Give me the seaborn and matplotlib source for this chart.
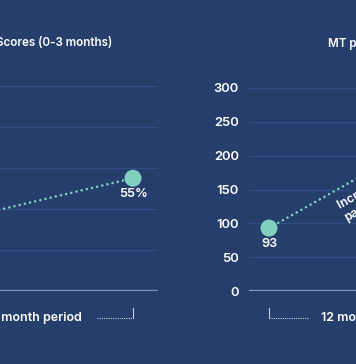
import matplotlib
matplotlib.use("Agg")
import matplotlib.pyplot as plt
import matplotlib.transforms as mtransforms
import pandas as pd
import seaborn as sns

# data
months = [0, 12]
scores_pct = [32, 55]
patients = [93, 260]
score_ticks = [0, 20, 40, 60, 80, 100]
patient_ticks = [0, 50, 100, 150, 200, 250, 300]
score_title = "PHQ-9 Scores (0-3 months)"
patient_title = "MT participants (0-12 months)"
period_label = "12 month period"
trend_label = "Increase in\npatients"

BG = "#263e6c"
GRID = "#2f4e88"
ZERO = "#8d95b9"
MINT = "#7fd0bf"
FONT = ["Inter", "DejaVu Sans"]
WT = "semibold"

sns.set_theme(style="white", rc={"axes.facecolor": BG, "figure.facecolor": BG})
plt.rcParams["font.family"] = FONT

W, H = 356, 364
fig = plt.figure(figsize=(W / 100, H / 100), dpi=100)
PX = 200 / 12.0  # pixels per month


def panel(left_px, top_px, ylim, ticks, values, show_labels):
    bottom_px = 291
    xlim = (-1.2, 13.5)
    ax = fig.add_axes([left_px / W, (H - bottom_px) / H,
                       (xlim[1] - xlim[0]) * PX / W, (bottom_px - top_px) / H])
    ax.set_facecolor(BG)
    ax.set_xlim(*xlim)
    ax.set_ylim(*ylim)
    ax.set_yticks(ticks)
    if show_labels:
        ax.set_yticklabels([str(t) for t in ticks])
    else:
        ax.set_yticklabels([])
    ax.set_xticks([])
    for s in ax.spines.values():
        s.set_visible(False)
    ax.tick_params(axis="y", length=0, pad=7.2, labelsize=9.4, labelcolor="white")
    for lab in ax.get_yticklabels():
        lab.set_fontweight(WT)
    for t in ticks[1:]:
        ax.axhline(t, color=GRID, lw=0.9, zorder=0)
    ax.axhline(0, color=ZERO, lw=1.6, zorder=1)

    df = pd.DataFrame({"month": months, "value": values})
    sns.lineplot(data=df, x="month", y="value", ax=ax, color=MINT, lw=1.9,
                 linestyle=(0, (0.01, 2.0)), dash_capstyle="round", zorder=2)
    sns.scatterplot(data=df, x="month", y="value", ax=ax, color=MINT, s=150,
                    edgecolor="none", zorder=3, clip_on=False)
    ax.set_xlabel("")
    ax.set_ylabel("")
    return ax


# left panel's y labels sit outside the visible area
ax1 = panel(158 - 14.7 * PX, 86, (0, 100), score_ticks, scores_pct, False)
ax2 = panel(249, 88, (0, 300), patient_ticks, patients, True)

ax1.annotate(f"{scores_pct[1]}%", (months[1], scores_pct[1]), xytext=(0, -11),
             textcoords="offset points", ha="center", va="center",
             color="white", fontsize=9.2, fontweight=WT)
ax2.annotate(f"{patients[0]}", (months[0], patients[0]), xytext=(0, -11.5),
             textcoords="offset points", ha="center", va="center",
             color="white", fontsize=9.2, fontweight=WT)

# rotated trend label along the line
ax2.text(4.35, 116, trend_label, rotation=29, rotation_mode="anchor",
         ha="left", va="center", color="white", fontsize=8.8,
         fontweight=WT, linespacing=1.15,
         bbox=dict(facecolor=BG, edgecolor="none", pad=1.5), zorder=4)

# period brackets under each panel
dot_kw = dict(color="#c8cce0", lw=0.8, clip_on=False)
for ax, h, seg, tick_x in [(ax1, 205, (9.84, 12), 12), (ax2, 203, (0, 2.4), 0)]:
    tr = mtransforms.blended_transform_factory(ax.transData, ax.transAxes)
    yb = -27 / h
    yt = -17 / h
    ax.plot(seg, [yb, yb], transform=tr, linestyle=(0, (1, 1)), **dot_kw)
    ax.plot([tick_x, tick_x], [yb, yt], transform=tr, **dot_kw)
    ax.text(6, yb, period_label, transform=tr, ha="center", va="center",
            color="white", fontsize=9.0, fontweight=WT)

# panel titles
fig.text(112 / W, 1 - 43 / H, score_title, ha="right", va="center",
         color="white", fontsize=8.4, fontweight=WT)
fig.text(328 / W, 1 - 43 / H, patient_title, ha="left", va="center",
         color="white", fontsize=8.4, fontweight=WT)

fig.savefig("out.png", dpi=100, facecolor=BG)
